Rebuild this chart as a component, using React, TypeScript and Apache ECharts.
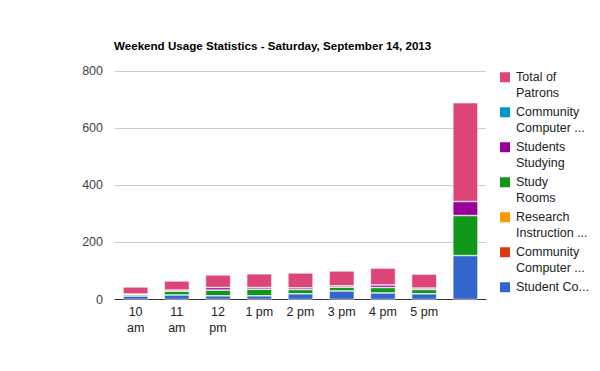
import React, { useEffect, useRef } from "react";
import * as echarts from "echarts";

const categories = ["10 am", "11 am", "12 pm", "1 pm", "2 pm", "3 pm", "4 pm", "5 pm", ""];
const studentCo = [12, 16, 13, 13, 20, 30, 23, 20, 154];
const communityComputerA = [0, 0, 0, 0, 0, 0, 0, 0, 0];
const researchInstruction = [0, 0, 0, 0, 0, 0, 0, 0, 0];
const studyRooms = [5, 13, 20, 23, 15, 13, 19, 15, 140];
const studentsStudying = [2, 4, 9, 6, 6, 5, 9, 5, 49];
const communityComputerB = [0, 0, 0, 0, 0, 0, 0, 0, 0];
const totalPatrons = [25, 32, 44, 48, 52, 52, 59, 49, 346];
const yTicks = [0, 200, 400, 600, 800];

const seriesDefs = [
  { name: "Student Co...", label: "Student Co...", color: "#3366cc", data: studentCo },
  { name: "Community Computer A", label: "Community\nComputer ...", color: "#dc3912", data: communityComputerA },
  { name: "Research Instruction", label: "Research\nInstruction ...", color: "#ff9900", data: researchInstruction },
  { name: "Study Rooms", label: "Study\nRooms", color: "#109618", data: studyRooms },
  { name: "Students Studying", label: "Students\nStudying", color: "#990099", data: studentsStudying },
  { name: "Community Computer B", label: "Community\nComputer ...", color: "#0099c6", data: communityComputerB },
  { name: "Total of Patrons", label: "Total of\nPatrons", color: "#dd4477", data: totalPatrons },
];

export default function App() {
  const ref = useRef<HTMLDivElement>(null);
  useEffect(() => {
    if (!ref.current) return;
    const chart = echarts.init(ref.current, undefined, { renderer: "svg" });
    const labelOf: Record<string, string> = {};
    seriesDefs.forEach((s) => {
      const lines = s.label.split("\n");
      labelOf[s.name] = lines.length === 1 ? "\n" + lines[0] + "\n" : "\n" + s.label;
    });
    chart.setOption({
      animation: false,
      textStyle: { fontFamily: "Liberation Sans, Arial, sans-serif" },
      title: {
        text: "Weekend Usage Statistics - Saturday, September 14, 2013",
        left: 114,
        top: 39,
        padding: 0,
        textStyle: { fontSize: 11.6, fontWeight: "bold", color: "#000", fontFamily: "Liberation Sans, Arial, sans-serif" },
      },
      legend: {
        orient: "vertical",
        left: 498,
        top: 54,
        padding: 0,
        itemWidth: 12,
        itemHeight: 12,
        itemGap: -11.5,
        icon: "rect",
        data: seriesDefs.map((s) => s.name).reverse(),
        formatter: (n: string) => labelOf[n],
        textStyle: { fontSize: 12.5, color: "#222", lineHeight: 15.5 },
      },
      grid: { left: 115, right: 114, top: 71, bottom: 71.5, containLabel: false },
      xAxis: {
        type: "category",
        data: categories,
        axisLine: { lineStyle: { color: "#333", width: 1 } },
        axisTick: { show: false },
        axisLabel: {
          color: "#222",
          fontSize: 12.5,
          lineHeight: 15.5,
          margin: 5,
          interval: 0,
          formatter: (v: string) => (v.length > 4 ? v.replace(" ", "\n") : v),
        },
      },
      yAxis: {
        type: "value",
        min: yTicks[0],
        max: yTicks[yTicks.length - 1],
        interval: 200,
        axisLine: { show: false },
        axisTick: { show: false },
        splitLine: { lineStyle: { color: "#cccccc", width: 1 } },
        axisLabel: { color: "#444", fontSize: 12.5, margin: 12 },
      },
      series: seriesDefs.map((s) => ({
        type: "bar",
        name: s.name,
        stack: "total",
        data: s.data.map((v) => (v === 0 ? null : v)),
        barCategoryGap: "39%",
        itemStyle: { color: s.color, borderColor: "#fff", borderWidth: 0.6 },
      })),
    });
    return () => chart.dispose();
  }, []);
  return <div ref={ref} style={{ width: 600, height: 371, position: "absolute", left: 0, top: 0 }} />;
}
